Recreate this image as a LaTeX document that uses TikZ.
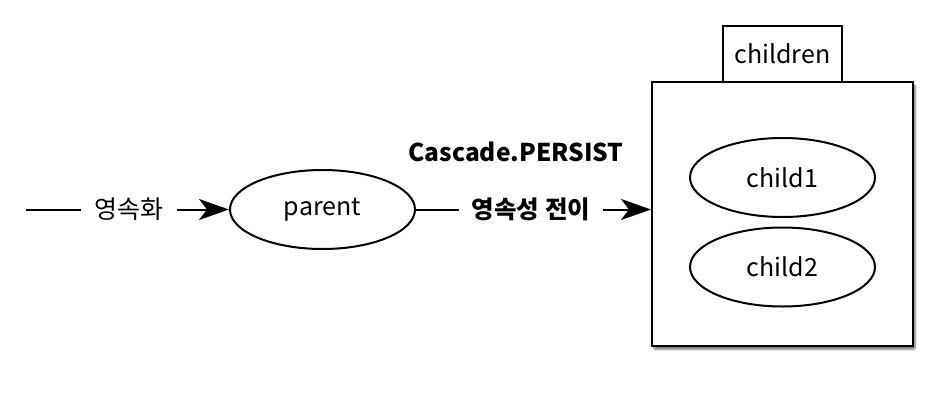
\documentclass[tikz,border=0pt]{standalone}
\usepackage{fontspec}
\setmainfont{Noto Sans CJK KR}
\usetikzlibrary{arrows.meta,shapes.geometric,shadows.blur}
\tikzset{
  line/.style={line width=2pt, draw=black},
  arr/.style={line, -{Stealth[length=30pt,width=21pt,inset=8pt]}},
  lbl/.style={font=\fontsize{25}{29}\selectfont, inner xsep=13pt, inner ysep=2pt},
  blbl/.style={font=\fontsize{24.5}{29}\selectfont\bfseries, inner xsep=13pt, inner ysep=2pt},
  oval/.style={ellipse, line, minimum width=185pt, minimum height=79pt, inner sep=0pt, font=\fontsize{25}{29}\selectfont},
}
\begin{document}
\begin{tikzpicture}[x=1pt,y=-1pt]
\useasboundingbox (0,0) rectangle (946,400);
% container
\node (box) [rectangle, line, fill=white, minimum width=261pt, minimum height=264pt, inner sep=0pt,
  blur shadow={shadow xshift=2pt, shadow yshift=-3pt, shadow blur steps=6, shadow blur extra rounding=1pt, shadow opacity=60}] at (782.5,214) {};
\node (tab) [rectangle, line, fill=white, minimum width=119pt, minimum height=56pt, inner sep=0pt,
  font=\fontsize{25}{29}\selectfont] at (782.5,54) {children};
\node (c1) [oval] at (782.5,177.5) {child1};
\node (c2) [oval] at (782.5,267) {child2};
% parent
\node (parent) [oval] at (322.5,209.5) {parent};
% left connector
\coordinate (start) at (26,209.5);
\node (t1) [lbl] at (129,209.5) {영속화};
\draw[line] (start) -- (t1.west);
\draw[arr] (t1.east) -- (parent.west);
% right connector
\node (t2) [blbl] at (531,209.5) {영속성 전이};
\draw[line] (parent.east) -- (t2.west);
\draw[arr] (t2.east) -- (box.west |- t2.east);
\node (casc) [font=\fontsize{24.5}{29}\selectfont\bfseries, inner sep=0pt] at (516,152) {Cascade.PERSIST};
\end{tikzpicture}
\end{document}
